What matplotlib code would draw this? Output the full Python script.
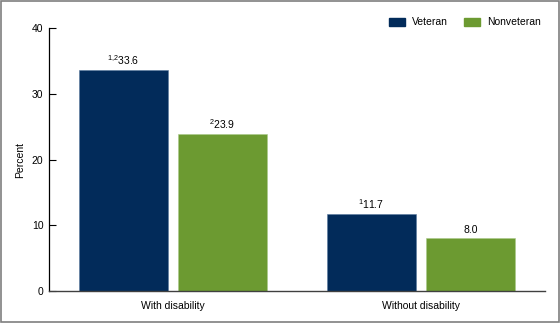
import numpy as np
import matplotlib
matplotlib.use("Agg")
import matplotlib.pyplot as plt
from matplotlib.patches import Patch, Rectangle

plt.rcParams['font.family'] = ['Liberation Sans', 'DejaVu Sans']
plt.rcParams['mathtext.fontset'] = 'custom'
plt.rcParams['mathtext.rm'] = 'Liberation Sans'

# Percent by disability status and veteran status
categories = ['With disability', 'Without disability']
veteran = [33.6, 11.7]
nonveteran = [23.9, 8.0]
veteran_notes = ['1{,}2', '1']
nonveteran_notes = ['2', '']

navy = '#022b5a'
green = '#6c9a31'
fs = 7.5

fig = plt.figure(figsize=(5.6, 3.23), dpi=100)
ax = fig.add_axes([0.0875, 0.099, 0.8855, 0.814])

x = np.arange(len(categories))
width = 0.36
offset = 0.2

ax.bar(x - offset, veteran, width, color=navy, edgecolor='#5a7a9e', linewidth=0.4)
ax.bar(x + offset, nonveteran, width, color=green, edgecolor='#a9c98a', linewidth=0.4)


def label(val, note):
    if note:
        return r'$\mathregular{^{%s}}$%.1f' % (note, val)
    return '%.1f' % val


for xi, v, n in zip(x - offset, veteran, veteran_notes):
    ax.text(xi, v + 0.45, label(v, n), ha='center', va='bottom', fontsize=fs)
for xi, v, n in zip(x + offset, nonveteran, nonveteran_notes):
    ax.text(xi, v + 0.45, label(v, n), ha='center', va='bottom', fontsize=fs)

ax.set_xlim(-0.5, 1.5)
ax.set_ylim(0, 40)
ax.set_yticks([0, 10, 20, 30, 40])
ax.set_xticks(x)
ax.set_xticklabels(categories, fontsize=fs)
ax.tick_params(axis='x', length=0, pad=7)
ax.tick_params(axis='y', direction='in', length=5, width=0.8, labelsize=fs, pad=4)
ax.set_ylabel('Percent', fontsize=fs, labelpad=5)

for s in ['top', 'right']:
    ax.spines[s].set_visible(False)
ax.spines['left'].set_linewidth(0.9)
ax.spines['left'].set_color('black')
ax.spines['bottom'].set_linewidth(1.0)
ax.spines['bottom'].set_color('#404040')

handles = [Patch(facecolor=navy, edgecolor=navy), Patch(facecolor=green, edgecolor=green)]
fig.legend(handles, ['Veteran', 'Nonveteran'], loc='upper right',
           bbox_to_anchor=(0.982, 0.975), ncol=2, frameon=False, fontsize=fs,
           handlelength=1.55, handleheight=0.75, handletextpad=0.65,
           columnspacing=1.55)

# thin gray frame around the whole figure
fig.patches.append(Rectangle((0.001, 0.002), 0.997, 0.995, transform=fig.transFigure,
                             fill=False, edgecolor='#7f7f7f', linewidth=1.2))

fig.savefig('out.png', dpi=100)
